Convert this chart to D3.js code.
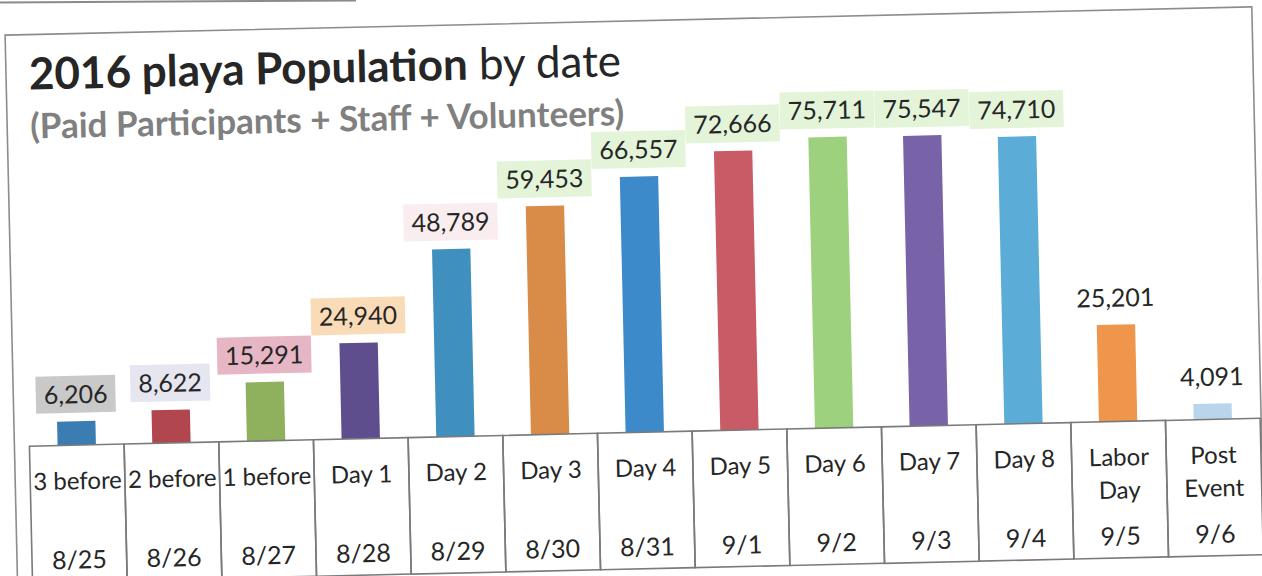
<!DOCTYPE html>
<html>
<head>
<meta charset="utf-8">
<script src="https://cdn.jsdelivr.net/npm/d3@7"></script>
<style>
  html, body { margin: 0; padding: 0; background: #fff; }
  svg { display: block; }
</style>
</head>
<body>
<div id="chart"></div>
<script>
// data
const categories = ['3 before', '2 before', '1 before', 'Day 1', 'Day 2', 'Day 3', 'Day 4',
  'Day 5', 'Day 6', 'Day 7', 'Day 8', 'Labor\nDay', 'Post\nEvent'];
const dates = ['8/25', '8/26', '8/27', '8/28', '8/29', '8/30', '8/31',
  '9/1', '9/2', '9/3', '9/4', '9/5', '9/6'];
const population = [6206, 8622, 15291, 24940, 48789, 59453, 66557,
  72666, 75711, 75547, 74710, 25201, 4091];

const barColors = ['#3b7db3', '#b2464f', '#8fb05c', '#5e4e8e', '#4090bf', '#d98b48', '#3d8acb',
  '#c95b67', '#9ed17e', '#7862a8', '#5badd8', '#ef954c', '#b9d5ec'];
const labelFills = ['#c9c9c9', '#e6e6f1', '#e7b6c5', '#f9dbb8', '#faedef', '#e3f4d9', '#e3f4d9',
  '#e3f4d9', '#e3f4d9', '#e3f4d9', '#e3f4d9', null, null];

const width = 1262, height = 576;
const font = 'Lato, "Noto Sans", sans-serif';

const svg = d3.select('#chart').append('svg')
  .attr('width', width)
  .attr('height', height)
  .attr('viewBox', [0, 0, width, height])
  .style('background', '#fff');

// scrap of the box above, caught by the scan
svg.append('line')
  .attr('x1', 0).attr('y1', 2.5).attr('x2', 356).attr('y2', 0.5)
  .attr('stroke', '#8a8a8a').attr('stroke-width', 2);

// the page sits slightly tilted in the scan
const g = svg.append('g').attr('transform', 'rotate(-1.3, 631, 288)');

const tableTop = 432.5, tableBottom = 569;

const x = d3.scaleBand()
  .domain(categories)
  .range([26, 1257])
  .paddingInner(0.595)
  .paddingOuter(0.2975);

const y = d3.scaleLinear()
  .domain([0, 80000])
  .range([tableTop, 125]);

// outer frame
g.append('rect')
  .attr('x', 11).attr('y', 21)
  .attr('width', 1247).attr('height', 620)
  .attr('fill', 'none')
  .attr('stroke', '#8c8c8c').attr('stroke-width', 1.6);

// title
const title = g.append('text')
  .attr('x', 34).attr('y', 76)
  .style('font-family', font)
  .style('font-size', '44px')
  .attr('fill', '#262626');
title.append('tspan').style('font-weight', 'bold').text('2016 playa Population');
title.append('tspan').style('font-weight', 'normal').text(' by date');

g.append('text')
  .attr('x', 34).attr('y', 125)
  .style('font-family', font)
  .style('font-size', '35px')
  .style('font-weight', 'bold')
  .attr('fill', '#808080')
  .text('(Paid Participants + Staff + Volunteers)');

// bars
g.append('g').selectAll('rect')
  .data(population)
  .join('rect')
  .attr('x', (d, i) => x(categories[i]))
  .attr('y', d => y(d))
  .attr('width', x.bandwidth())
  .attr('height', d => y(0) - y(d))
  .attr('fill', (d, i) => barColors[i]);

// value labels with their coloured boxes
const labels = g.append('g').selectAll('g')
  .data(population)
  .join('g')
  .attr('transform', (d, i) => `translate(${x(categories[i]) + x.bandwidth() / 2},${y(d) - 27})`);

labels.append('text')
  .attr('text-anchor', 'middle')
  .attr('dy', '0.36em')
  .style('font-family', font)
  .style('font-size', '25px')
  .attr('fill', '#262626')
  .text(d => d3.format(',')(d));

labels.each(function (d, i) {
  if (!labelFills[i]) return;
  const bb = d3.select(this).select('text').node().getBBox();
  d3.select(this).insert('rect', 'text')
    .attr('x', bb.x - 8).attr('y', -18.5)
    .attr('width', bb.width + 16).attr('height', 37)
    .attr('fill', labelFills[i]);
});

// category / date table under the bars
const step = x.step();
const cells = g.append('g').selectAll('g')
  .data(categories)
  .join('g')
  .attr('transform', d => `translate(${x(d) + x.bandwidth() / 2 - step / 2},0)`);

cells.append('rect')
  .attr('y', tableTop)
  .attr('width', step)
  .attr('height', tableBottom - tableTop)
  .attr('fill', 'none')
  .attr('stroke', '#7a7a7a')
  .attr('stroke-width', 1.6);

cells.append('text')
  .attr('text-anchor', 'middle')
  .style('font-family', font)
  .style('font-size', '24px')
  .attr('fill', '#262626')
  .selectAll('tspan')
  .data(d => d.split('\n'))
  .join('tspan')
  .attr('x', step / 2)
  .attr('y', (d, i) => 468 + i * 33)
  .attr('dy', '0.36em')
  .text(d => d);

cells.append('text')
  .attr('x', step / 2)
  .attr('y', 547)
  .attr('dy', '0.36em')
  .attr('text-anchor', 'middle')
  .style('font-family', font)
  .style('font-size', '25px')
  .attr('fill', '#262626')
  .text((d, i) => dates[i]);
</script>
</body>
</html>
